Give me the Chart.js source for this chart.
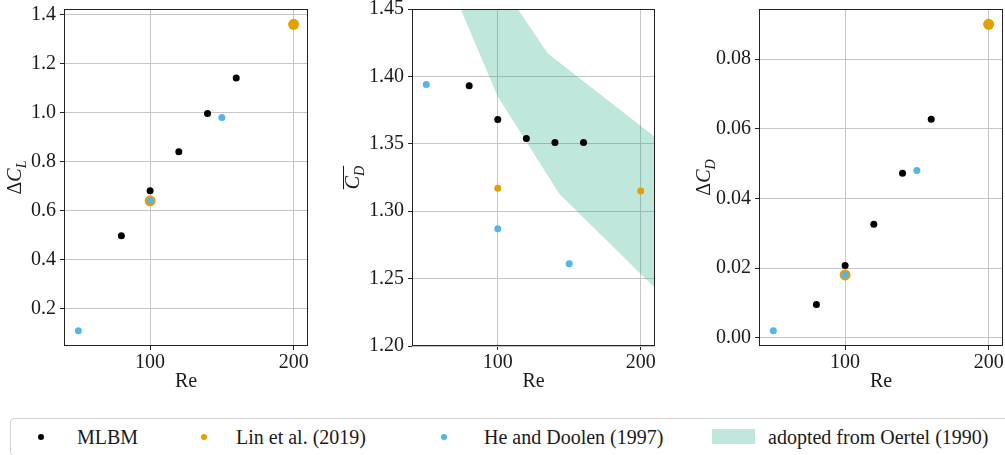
<!DOCTYPE html>
<html>
<head>
<meta charset="utf-8">
<title>Cylinder flow coefficients</title>
<script src="https://cdn.jsdelivr.net/npm/chart.js@4.4.1/dist/chart.umd.min.js"></script>
<style>
  body { margin: 0; background: #fff; width: 1005px; height: 455px; overflow: hidden; position: relative; font-family: "Liberation Serif", serif; }
  canvas { position: absolute; top: 0; }
  #legend { position: absolute; left: 10px; top: 418px; width: 1010px; height: 38px; border: 1px solid #d4d4d4; border-radius: 4px; box-sizing: border-box; }
  #legend .item { position: absolute; top: 0; height: 36px; line-height: 36px; font-size: 20px; color: #1a1a1a; white-space: nowrap; }
  #legend .dot { position: absolute; top: 15px; width: 6px; height: 6px; border-radius: 50%; }
  #legend .patch { position: absolute; top: 10px; width: 43px; height: 15px; }
</style>
</head>
<body>
<canvas id="liftAmp" width="315" height="400" style="left:0px"></canvas>
<canvas id="meanDrag" width="340" height="400" style="left:320px"></canvas>
<canvas id="dragAmp" width="325" height="400" style="left:680px"></canvas>
<div id="legend"></div>

<script>
// Reynolds numbers of each data source
const reMLBM = [80, 100, 120, 140, 160];
const reLin = [100, 200];
const reHe = [50, 100, 150];

// lift coefficient amplitude
const dclMLBM = [0.497, 0.681, 0.840, 0.996, 1.141];
const dclLin = [0.64, 1.36];
const dclHe = [0.11, 0.64, 0.98];

// mean drag coefficient
const cdMLBM = [1.393, 1.368, 1.354, 1.351, 1.351];
const cdLin = [1.317, 1.315];
const cdHe = [1.394, 1.287, 1.261];

// drag coefficient amplitude
const dcdMLBM = [0.0095, 0.0207, 0.0326, 0.0472, 0.0627];
const dcdLin = [0.018, 0.090];
const dcdHe = [0.002, 0.018, 0.048];

// Oertel (1990) range for the mean drag
const oertelUpperRe = [70, 100, 135, 210];
const oertelUpper = [1.519, 1.472, 1.417, 1.355];
const oertelLowerRe = [70, 100, 143, 210];
const oertelLower = [1.460, 1.385, 1.313, 1.243];

// tick labels
const reTicks = [100, 200];
const dclTicks = [0.2, 0.4, 0.6, 0.8, 1.0, 1.2, 1.4];
const cdTicks = [1.20, 1.25, 1.30, 1.35, 1.40, 1.45];
const dcdTicks = [0.00, 0.02, 0.04, 0.06, 0.08];

const seriesNames = ['MLBM', 'Lin et al. (2019)', 'He and Doolen (1997)', 'adopted from Oertel (1990)'];
const colors = { mlbm: '#000000', lin: '#E69F00', he: '#56B4E9', band: 'rgba(0,158,115,0.25)' };

const FONT = '"Liberation Serif", serif';
const FONT_SIZE = 20;
const TEXT = '#1a1a1a';
const GRID = '#c6c6c6';
const SPINE = '#222222';

const pts = (xs, ys) => xs.map((x, i) => ({ x: x, y: ys[i] }));

// closed outline: upper edge left to right, lower edge back
const bandOutline = pts(oertelUpperRe, oertelUpper)
  .concat(pts(oertelLowerRe, oertelLower).reverse());

// keep the plot box where the layout padding puts it
function noOverhang(s) {
  s.paddingTop = 0;
  s.paddingBottom = 0;
  s.paddingLeft = 0;
  s.paddingRight = 0;
}

// frame around the axes plus the y label with sub/overline
const framePlugin = {
  id: 'frame',
  afterDraw(chart, args, opts) {
    const { ctx, chartArea: a } = chart;
    ctx.save();
    ctx.strokeStyle = SPINE;
    ctx.lineWidth = 1;
    ctx.strokeRect(Math.round(a.left) + 0.5, Math.round(a.top) + 0.5,
      Math.round(a.right - a.left) - 1, Math.round(a.bottom - a.top) - 1);

    const size = FONT_SIZE;
    ctx.translate(opts.x, (a.top + a.bottom) / 2);
    ctx.rotate(-Math.PI / 2);
    ctx.fillStyle = TEXT;
    ctx.textBaseline = 'middle';
    const parts = opts.parts.map(p => {
      const font = (p.italic ? 'italic ' : '') + (p.sub ? Math.round(size * 0.7) : size) + 'px ' + FONT;
      ctx.font = font;
      return Object.assign({}, p, { font: font, w: ctx.measureText(p.text).width });
    });
    const total = parts.reduce((s, p) => s + p.w, 0);
    let x = -total / 2;
    parts.forEach(p => {
      ctx.font = p.font;
      ctx.fillText(p.text, x, p.sub ? size * 0.3 : 0);
      x += p.w;
    });
    if (opts.overline) {
      ctx.strokeStyle = TEXT;
      ctx.lineWidth = 1;
      ctx.beginPath();
      ctx.moveTo(-total / 2, -10.5);
      ctx.lineTo(total / 2, -10.5);
      ctx.stroke();
    }
    ctx.restore();
  }
};

function scatterSet(label, xs, ys, color, radius, order) {
  return {
    label: label,
    data: pts(xs, ys),
    backgroundColor: color,
    borderWidth: 0,
    pointRadius: radius,
    pointHoverRadius: radius,
    order: order
  };
}

function makePanel(id, p) {
  const datasets = [];
  if (p.band) {
    datasets.push({
      label: seriesNames[3],
      data: bandOutline,
      showLine: true,
      fill: 'shape',
      backgroundColor: colors.band,
      borderColor: 'rgba(0,0,0,0)',
      borderWidth: 0,
      pointRadius: 0,
      pointHoverRadius: 0,
      order: 3
    });
  }
  datasets.push(scatterSet(seriesNames[0], reMLBM, p.mlbm, colors.mlbm, 3.5, 2));
  datasets.push(scatterSet(seriesNames[1], reLin, p.lin, colors.lin, p.linRadius, 1));
  datasets.push(scatterSet(seriesNames[2], reHe, p.he, colors.he, 3.5, 0));

  const tickFont = { family: FONT, size: FONT_SIZE };

  new Chart(document.getElementById(id), {
    type: 'scatter',
    data: { datasets: datasets },
    options: {
      responsive: false,
      animation: false,
      events: [],
      layout: { autoPadding: false, padding: { top: 9, right: p.right, left: 0, bottom: 0 } },
      plugins: {
        legend: { display: false },
        tooltip: { enabled: false },
        frame: { x: p.titleX, parts: p.title, overline: p.overline }
      },
      scales: {
        x: {
          type: 'linear',
          min: 40,
          max: 210,
          afterBuildTicks: s => { s.ticks = reTicks.map(v => ({ value: v })); },
          afterFit: s => { s.height = 54; noOverhang(s); },
          ticks: { font: tickFont, color: TEXT, padding: 1, maxRotation: 0 },
          grid: { color: GRID, tickColor: SPINE, tickLength: 4 },
          border: { display: false },
          title: { display: true, text: 'Re', font: tickFont, color: TEXT, padding: { top: 0, bottom: 6 } }
        },
        y: {
          type: 'linear',
          min: p.yMin,
          max: p.yMax,
          afterBuildTicks: s => { s.ticks = p.ticks.map(v => ({ value: v })); },
          afterFit: s => { s.width = p.yWidth; noOverhang(s); },
          ticks: { font: tickFont, color: TEXT, padding: 4, callback: v => v.toFixed(p.decimals) },
          grid: { color: GRID, tickColor: SPINE, tickLength: 4 },
          border: { display: false }
        }
      }
    },
    plugins: [framePlugin]
  });
}

makePanel('liftAmp', {
  mlbm: dclMLBM, lin: dclLin, he: dclHe, linRadius: 5.5,
  yMin: 0.0475, yMax: 1.4225, ticks: dclTicks, decimals: 1,
  yWidth: 64, right: 7, titleX: 16,
  title: [{ text: '\u0394' }, { text: 'C', italic: true }, { text: 'L', italic: true, sub: true }]
});

makePanel('meanDrag', {
  mlbm: cdMLBM, lin: cdLin, he: cdHe, linRadius: 3.5, band: true,
  yMin: 1.20, yMax: 1.45, ticks: cdTicks, decimals: 2,
  yWidth: 92, right: 5, titleX: 34, overline: true,
  title: [{ text: 'C', italic: true }, { text: 'D', italic: true, sub: true }]
});

makePanel('dragAmp', {
  mlbm: dcdMLBM, lin: dcdLin, he: dcdHe, linRadius: 5.5,
  yMin: -0.0024, yMax: 0.0944, ticks: dcdTicks, decimals: 2,
  yWidth: 79, right: 2, titleX: 25,
  title: [{ text: '\u0394' }, { text: 'C', italic: true }, { text: 'D', italic: true, sub: true }]
});

// shared legend under the three panels
const legendLayout = [
  { kind: 'dot', color: colors.mlbm, mark: 27, text: 66 },
  { kind: 'dot', color: colors.lin, mark: 190, text: 225 },
  { kind: 'dot', color: colors.he, mark: 430, text: 473 },
  { kind: 'patch', color: colors.band, mark: 701, text: 757 }
];
const legend = document.getElementById('legend');
legendLayout.forEach((e, i) => {
  const m = document.createElement('div');
  m.className = e.kind;
  m.style.left = e.mark + 'px';
  m.style.background = e.color;
  legend.appendChild(m);
  const t = document.createElement('div');
  t.className = 'item';
  t.style.left = e.text + 'px';
  t.textContent = seriesNames[i];
  legend.appendChild(t);
});
</script>
</body>
</html>
